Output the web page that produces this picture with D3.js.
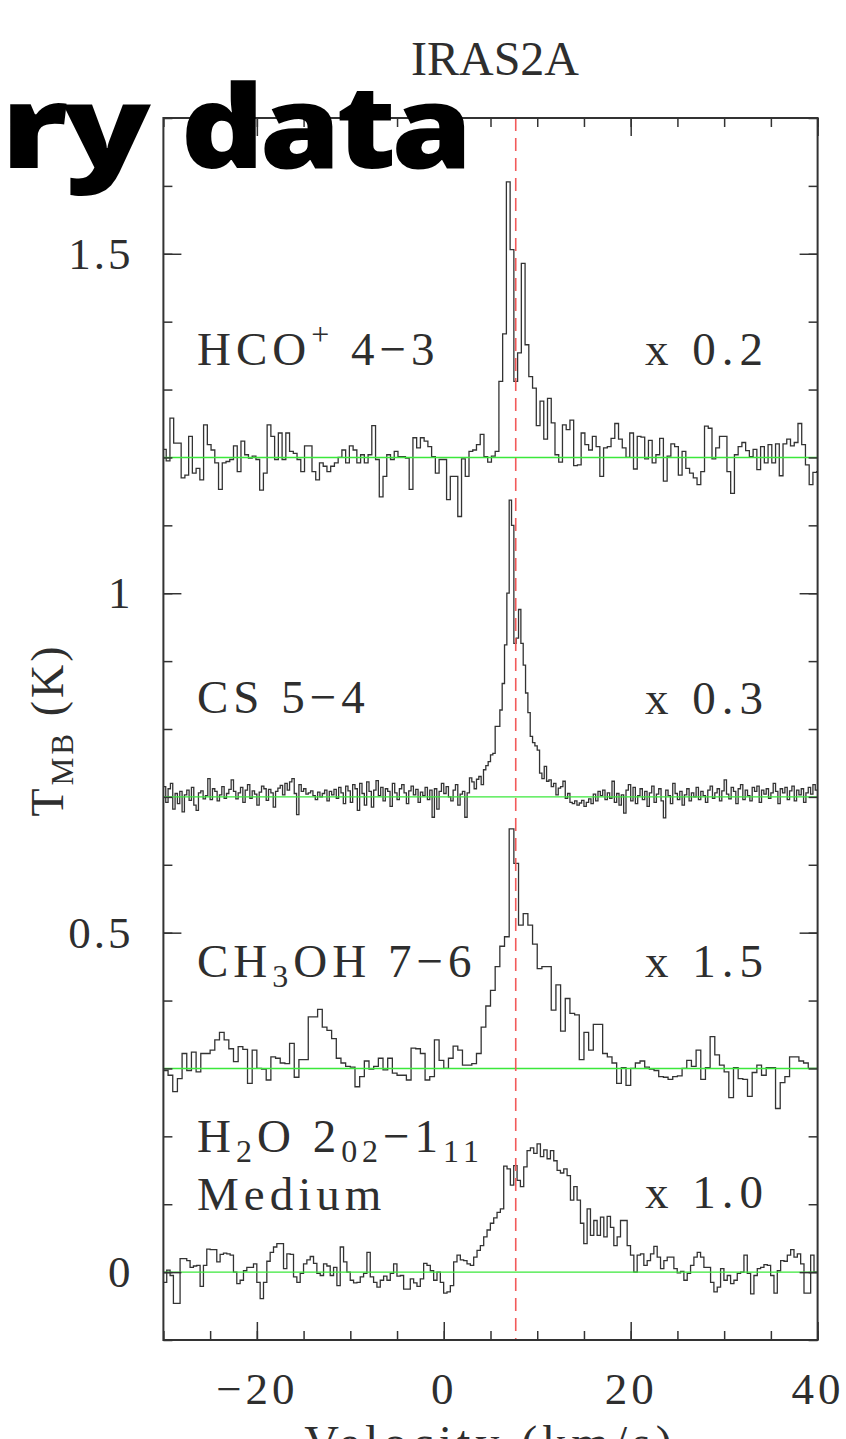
<!DOCTYPE html>
<html>
<head>
<meta charset="utf-8">
<script src="https://cdn.jsdelivr.net/npm/d3@7"></script>
<style>
html, body { margin: 0; padding: 0; background: #fff; overflow: hidden; }
svg { display: block; }
</style>
</head>
<body>
<svg width="846" height="1439"></svg>
<script>
// spectra, displayed amplitude above each baseline, in mK (already multiplied by the factor)
var lineNames = ["HCO+ 4-3", "CS 5-4", "CH3OH 7-6", "H2O 202-111 Medium"];
var baselines = [1.2, 0.7, 0.3, 0];
var factors = ["x 0.2", "x 0.3", "x 1.5", "x 1.0"];
var startVel = [-30.1, -30, -30, -30];
var chanWidth = [0.4, 0.25, 0.5, 0.357];
var vlsr = 7.7;

var hcoMilliK = [12, -5,
  58, 21, 21, -30, -26, 31, -23, -16, -33, 48, 19, 11, -8, -47, -8, -6, -3, 17, -21, 24,
  4, -1, 2, -3, -48, -23, 48, 31, -3, 36, -3, 36, 9, 6, -3, -21, 17, 17, -21, -33,
  -8, -13, -21, -13, -8, 0, 11, -8, 17, 11, -8, 4, -8, 4, 47, -3, -58, -28, 4, -3,
  9, 1, 1, -1, -47, 29, 14, 29, 24, 16, 1, -23, -3, -3, -62, -28, -28, -87, -2, -28,
  9, 11, 19,
  34, 1, -7, 2, 9, 112, 182, 406, 306, 112, 154, 286, 166, 119, 102, 47, 83, 27, 87, 51,
  4, -7, 48, 41, 55, -12, -11, 36, 19, 11, 31, 16, -28, 14, 16, 28, 50, 27, 14, 0,
  36, -17, 31, 30, -2, 25, -8, 4, 28, -35, 2, 20, 16, -26, 9, -16, -23, -30, -40, -21,
  46, 43, -2, 14, 31, 31, -21, -53, 4, 16, 22, 10, 1, 12, -18, 16, -8, 19, -8, 20,
  -27, 20, 27, 17, 22, 50, 19, -11, -40, -22, -21, 35];

var csMilliK = [
  15, -8, 12, 20, -18, 5, -10, 8, -22, 3,
  10, -5, 14, -12, -20, 6, 9, -3, 2, 27,
  -4, 12, 8, -6, 3, 15, -2, 5, 11, 25,
  8, -3, 6, 14, -8, 10, 18, -2, 9, 4,
  -12, 7, 16, 12, -5, 11, 6, -15, 8, 13,
  17, 3, 20, 10, 22, 27, 5, -26, 18, 8,
  12, 4, 6, 9, 2, -4, 7, 0, 5, 10,
  -6, 8, 3, 11, -2, 14, 6, -10, 16, 9,
  -8, 18, 12, -20, 20, 5, -12, 22, 8, -15,
  10, 24, 2, 14, -6, 12, 8, -14, 20, 6,
  -4, 12, 18, 6, -10, 9, 16, 3, 11, -8,
  7, 2, 14, -4, 10, -30, 12, -18, 8, 20,
  5, 15, 0, -6, 10, 18, -12, 4, 8, -30,
  6, 28, 22, 12, 26, 30,
  18, 40, 46, 52, 62, 64, 104, 104, 128, 167, 224, 300, 437, 400, 226, 234, 276, 226, 194, 153,
  124, 89, 80, 75, 69, 35, 27, 45, 23, 25, 15, 20, 3, 13, 15, 23, -2,
  5, -8, -10, -6, -12, -9, -5, -14, -8, -3,
  -10, 4, -6, 8, 2, 10, -4, 6, -2, 23,
  -8, 5, -12, 3, -24, 10, 18, -6, 14, -10,
  2, 12, -4, 8, -14, 6, 16, -8, 4, 12,
  -6, -31, 10, 2, -10, 20, 5, -4, 8, -12,
  3, 12, -6, 6, 0, 14, -4, 8, 2, -8,
  10, 16, -2, 6, 12, -6, 9, 25, 4, -3,
  14, 8, -10, 12, 18, -4, 10, 2, -6, 14,
  8, 16, -8, 10, 4, 12, -2, 6, 20, 8,
  -10, 12, 6, 14, -4, 9, 16, -6, 10, 3,
  12, -8, 6, 14, 4, 18, 10];

var ch3ohMilliK = [
  -3, -10, -34, -15, 22, -3, 24, -5, 22, 22,
  27, 42, 53, 42, 29, 10, 32, 28, -22, 27,
  0, -1, -17, 17, 15, 8, 7, 37, -13, 13,
  13, 76, 76, 87, 61, 56, 44, 15, 8, 3,
  2, -27, -12, 11, -1, 3, 15, -2, 15, -7,
  -10, -10, -17, 30, 29, 22, -17, -12, 42, 12,
  0, 15, 33, 27, 5, 5, 7, 22, 61, 92,
  115, 150, 180, 194, 353, 302, 211, 228, 211, 183,
  147, 150, 150, 86, 123, 55, 103, 81, 79, 13,
  53, 27, 65, 65, 22, 17, 8, -22, 1, -25,
  0, 8, 11, 2, -1, -3, -12, -13, -16, -12,
  -11, 0, 12, 3, 27, -16, 1, 47, 20, 5,
  -5, -43, 1, -15, -16, -41, -6, 5, -10, 1,
  1, -59, -21, -12, 17, 17, 11, 8, 0, 0];

var h2oMilliK = [
  -15, 3, -5, -46, -46, 20, 20, 17, 7, 9, 10, -21, 10, 34, 33, 33, 15, 26, 28, 27,
  25, 0, -17, -12, 2, 7, 7, 12, -15, -39, -15, 16, 29, 37, 42, 42, 5, 27, 26, -7,
  -15, -2, 12, 18, 23, 13, -2, -5, 12, 9, -5, 7, -20, 37, 15, 0, -12, -16, -15, -7,
  -2, 29, -7, -15, -22, -12, -6, -12, -2, 12, -6, -5, -25, -25, -10, -16, -21, -10, 13, 10,
  2, -12, 0, -15, -31, -29, -20, 15, 25, 18, 17, 12, 10, 22, 32,
  39, 52, 62, 72, 80, 88, 93, 156, 152, 128, 157, 135, 126, 155, 179, 183, 175, 189, 170, 180,
  167, 179, 164, 150, 146, 152, 142, 106, 126, 106, 72, 42, 93, 54, 76, 54, 81, 52, 82, 66,
  39, 52, 76, 76, 39, 25, 0, 25, 27, 10, 17, 27, 38, 22, 5, 17, 22, 22, 5, -1,
  1, -12, -2, 10, 22, 29, 22, 7, 7, -15, -29, -22, 5, -12, -5, -17, -12, -2, 0, 25,
  -2, -32, -5, 5, 7, 11, 10, -5, -31, 2, 17, 16, 25, 33, 22, 27, 12, -31, -31, 25, 0];

var spectra = [hcoMilliK, csMilliK, ch3ohMilliK, h2oMilliK];

var xMajor = [-20, 0, 20, 40];
var yMajor = [0, 0.5, 1, 1.5];
var xMinor = d3.range(-30, 41, 5);
var yMinor = d3.range(-1, 18).map(function (d) { return d / 10; });

var svg = d3.select("svg"),
    width = +svg.attr("width"),
    height = +svg.attr("height");

var plotLeft = 163.4, plotRight = 817.6, plotTop = 118, plotBottom = 1340;

var x = d3.scaleLinear().domain([-30, 40]).range([plotLeft, plotRight]);
var y = d3.scaleLinear().domain([-0.1, 1.7]).range([plotBottom, plotTop]);

var serif = "'Liberation Serif', 'DejaVu Serif', serif";
var ink = "#2e2e2e";

svg.append("clipPath").attr("id", "plotclip")
    .append("rect")
    .attr("x", plotLeft).attr("y", plotTop)
    .attr("width", plotRight - plotLeft).attr("height", plotBottom - plotTop);

// spectra as histograms
var stepLine = d3.line()
    .x(function (d) { return x(d[0]); })
    .y(function (d) { return y(d[1]); })
    .curve(d3.curveStepAfter);

var plot = svg.append("g").attr("clip-path", "url(#plotclip)");

spectra.forEach(function (vals, k) {
    var pts = vals.map(function (v, i) {
        return [startVel[k] + i * chanWidth[k], baselines[k] + v / 1000];
    });
    pts.push([startVel[k] + vals.length * chanWidth[k], baselines[k] + vals[vals.length - 1] / 1000]);
    plot.append("path")
        .datum(pts)
        .attr("d", stepLine)
        .attr("fill", "none")
        .attr("stroke", "#333")
        .attr("stroke-width", 1.3);
});

// baselines
plot.selectAll("line.base")
    .data(baselines)
    .enter().append("line")
    .attr("class", "base")
    .attr("x1", x(-30)).attr("x2", x(40))
    .attr("y1", function (d) { return y(d); })
    .attr("y2", function (d) { return y(d); })
    .attr("stroke", "#3be83b")
    .attr("stroke-width", 1.4);

// source velocity
plot.append("line")
    .attr("x1", x(vlsr)).attr("x2", x(vlsr))
    .attr("y1", plotTop).attr("y2", plotBottom)
    .attr("stroke", "#f25a5a")
    .attr("stroke-width", 1.6)
    .attr("stroke-dasharray", "13,7");

// frame
svg.append("rect")
    .attr("x", plotLeft).attr("y", plotTop)
    .attr("width", plotRight - plotLeft).attr("height", plotBottom - plotTop)
    .attr("fill", "none")
    .attr("stroke", "#333")
    .attr("stroke-width", 2);

// ticks on all four sides, pointing inward
function ticks(axis, tx, ty) {
    var g = svg.append("g").attr("transform", "translate(" + tx + "," + ty + ")").call(axis);
    g.select(".domain").remove();
    g.selectAll(".tick line").attr("stroke", "#333").attr("stroke-width", 1.5);
    return g;
}
ticks(d3.axisBottom(x).tickValues(xMinor).tickSizeInner(-9).tickSizeOuter(0).tickFormat(""), 0, plotBottom);
ticks(d3.axisTop(x).tickValues(xMinor).tickSizeInner(-9).tickSizeOuter(0).tickFormat(""), 0, plotTop);
ticks(d3.axisLeft(y).tickValues(yMinor).tickSizeInner(-9).tickSizeOuter(0).tickFormat(""), plotLeft, 0);
ticks(d3.axisRight(y).tickValues(yMinor).tickSizeInner(-9).tickSizeOuter(0).tickFormat(""), plotRight, 0);
ticks(d3.axisTop(x).tickValues(xMajor).tickSizeInner(-18).tickSizeOuter(0).tickFormat(""), 0, plotTop);
ticks(d3.axisRight(y).tickValues(yMajor).tickSizeInner(-18).tickSizeOuter(0).tickFormat(""), plotRight, 0);

var fmt = d3.format("~g");
var xLab = ticks(d3.axisBottom(x).tickValues(xMajor).tickSizeInner(-18).tickSizeOuter(0)
    .tickPadding(32).tickFormat(fmt), 0, plotBottom);
xLab.selectAll("text")
    .attr("font-family", serif).attr("font-size", 45).attr("fill", ink)
    .attr("letter-spacing", 4);

var yLab = ticks(d3.axisLeft(y).tickValues(yMajor).tickSizeInner(-18).tickSizeOuter(0)
    .tickPadding(30).tickFormat(fmt), plotLeft, 0);
yLab.selectAll("text")
    .attr("font-family", serif).attr("font-size", 45).attr("fill", ink)
    .attr("letter-spacing", 3);

// text with sub/superscripts
function richText(px, py, parts, size, spacing) {
    var t = svg.append("text")
        .attr("x", px).attr("y", py)
        .attr("font-family", serif)
        .attr("font-size", size)
        .attr("fill", ink)
        .attr("letter-spacing", spacing);
    var shift = 0;
    parts.forEach(function (p) {
        var want = p[1] === "sub" ? size * 0.22 : p[1] === "sup" ? -size * 0.42 : 0;
        t.append("tspan")
            .attr("dy", want - shift)
            .attr("font-size", p[1] ? size * 0.68 : size)
            .text(p[0]);
        shift = want;
    });
    return t;
}

var labelSize = 47;
richText(197, 365, [["HCO"], ["+", "sup"], ["  4\u22123"]], labelSize, 5);
richText(197, 713, [["CS  5\u22124"]], labelSize, 5);
richText(197, 977, [["CH"], ["3", "sub"], ["OH  7\u22126"]], labelSize, 5);
richText(197, 1152, [["H"], ["2", "sub"], ["O  2"], ["02", "sub"], ["\u22121"], ["11", "sub"]], labelSize, 5);
richText(197, 1210, [["Medium"]], labelSize, 5);

var factorY = [365, 714, 977, 1208];
factors.forEach(function (f, k) {
    richText(645, factorY[k], [[f]], labelSize, 6);
});

// title and axis titles
svg.append("text")
    .attr("x", 495).attr("y", 75)
    .attr("text-anchor", "middle")
    .attr("font-family", serif).attr("font-size", 48)
    .attr("fill", ink)
    .text("IRAS2A");

var yTitle = richText(0, 0, [["T"], ["MB", "sub"], ["  (K)"]], 46, 3);
yTitle.attr("text-anchor", "middle")
    .attr("transform", "translate(63,730) rotate(-90)");

svg.append("text")
    .attr("x", (plotLeft + plotRight) / 2).attr("y", 1459)
    .attr("text-anchor", "middle")
    .attr("font-family", serif).attr("font-size", 48)
    .attr("fill", ink)
    .attr("letter-spacing", 5)
    .text("Velocity (km/s)");

// slide overlay "Preliminary data", its left part runs off the page
var overlayFont = "'Open Sans', Lato, sans-serif";
svg.append("text")
    .attr("x", 0).attr("y", 168)
    .attr("text-anchor", "end")
    .attr("transform", "translate(468,0) scale(1.12,1)")
    .attr("font-family", overlayFont)
    .attr("font-weight", 800)
    .attr("font-size", 116)
    .attr("letter-spacing", -4)
    .attr("fill", "#000")
    .text("data");
svg.append("text")
    .attr("x", 0).attr("y", 168)
    .attr("text-anchor", "end")
    .attr("transform", "translate(146,0) scale(1.24,1)")
    .attr("font-family", overlayFont)
    .attr("font-weight", 800)
    .attr("font-size", 116)
    .attr("letter-spacing", -4)
    .attr("fill", "#000")
    .text("Preliminary");
</script>
</body>
</html>
